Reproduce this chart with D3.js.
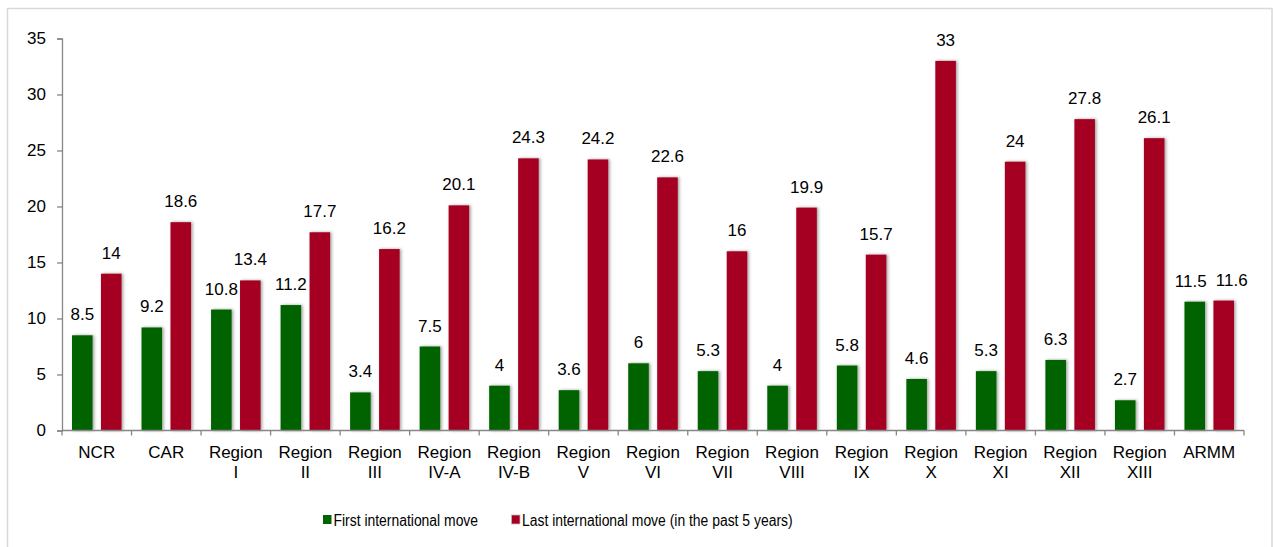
<!DOCTYPE html>
<html>
<head>
<meta charset="utf-8">
<script src="https://cdn.jsdelivr.net/npm/d3@7"></script>
<style>
  html, body { margin: 0; padding: 0; background: #fff; }
  svg { display: block; }
  text { font-family: "Liberation Sans", Arial, sans-serif; fill: #000; }
</style>
</head>
<body>
<svg id="chart" width="1275" height="547"></svg>
<script>
const categories = ["NCR", "CAR", "Region\nI", "Region\nII", "Region\nIII", "Region\nIV-A", "Region\nIV-B", "Region\nV", "Region\nVI", "Region\nVII", "Region\nVIII", "Region\nIX", "Region\nX", "Region\nXI", "Region\nXII", "Region\nXIII", "ARMM"];
const firstMove = [8.5, 9.2, 10.8, 11.2, 3.4, 7.5, 4, 3.6, 6, 5.3, 4, 5.8, 4.6, 5.3, 6.3, 2.7, 11.5];
const lastMove = [14, 18.6, 13.4, 17.7, 16.2, 20.1, 24.3, 24.2, 22.6, 16, 19.9, 15.7, 33, 24, 27.8, 26.1, 11.6];
const seriesNames = ["First international move", "Last international move (in the past 5 years)"];
const seriesColors = ["#006400", "#A50021"];
const yTicks = [0, 5, 10, 15, 20, 25, 30, 35];

const svg = d3.select("#chart");

// outer frame
svg.append("rect").attr("x", 7.5).attr("y", 8.5).attr("width", 1264.5).attr("height", 560)
  .attr("fill", "none").attr("stroke", "#d9d9d9").attr("stroke-width", 1.5);

const defs = svg.append("defs");
const f = defs.append("filter").attr("id", "shadow").attr("x", "-50%").attr("y", "-10%").attr("width", "200%").attr("height", "120%");
f.append("feDropShadow").attr("dx", 1.5).attr("dy", 0).attr("stdDeviation", 1.8)
  .attr("flood-color", "#000").attr("flood-opacity", 0.38);

const plotLeft = 62, plotRight = 1244, plotTop = 38.5, plotBottom = 430.5;

const y = d3.scaleLinear().domain([0, 35]).range([plotBottom, plotTop]);
const x0 = d3.scaleBand().domain(d3.range(categories.length)).range([plotLeft, plotRight]).paddingInner(0).paddingOuter(0);
const x1 = d3.scaleBand().domain([0, 1]).range([0, x0.bandwidth()]).paddingInner(0.29).paddingOuter(0.345);

const data = categories.map((c, i) => ({ c, i, vals: [firstMove[i], lastMove[i]] }));

// bars
const groups = svg.append("g").selectAll("g").data(data).join("g")
  .attr("transform", d => `translate(${x0(d.i)},0)`);

groups.selectAll("rect").data(d => d.vals.map((v, s) => ({ v, s }))).join("rect")
  .attr("x", d => x1(d.s))
  .attr("y", d => y(d.v))
  .attr("width", x1.bandwidth())
  .attr("height", d => y(0) - y(d.v))
  .attr("fill", d => seriesColors[d.s])
  .attr("filter", "url(#shadow)");

groups.selectAll("text.val").data(d => d.vals.map((v, s) => ({ v, s, last: d.i === categories.length - 1 }))).join("text")
  .attr("class", "val")
  .attr("x", d => x1(d.s) + x1.bandwidth() / 2)
  .attr("dx", d => d.last ? (d.s === 0 ? -4 : 8) : 0)
  .attr("y", d => y(d.v) - 15)
  .attr("text-anchor", "middle")
  .style("font-size", "17px")
  .text(d => d.v);

// y axis
const yAxis = svg.append("g").attr("transform", `translate(${plotLeft},0)`)
  .call(d3.axisLeft(y).tickValues(yTicks).tickSize(5).tickPadding(11));
yAxis.select(".domain").attr("stroke", "#868686").attr("stroke-width", 1.3);
yAxis.selectAll(".tick line").attr("stroke", "#868686").attr("stroke-width", 1.3);
yAxis.selectAll(".tick text").style("font-size", "17px").style("font-family", "Liberation Sans, Arial, sans-serif").attr("fill", "#000");

// x axis
const xAxisG = svg.append("g").attr("transform", `translate(0,${plotBottom})`);
xAxisG.append("line").attr("x1", plotLeft).attr("x2", plotRight).attr("y1", 0).attr("y2", 0)
  .attr("stroke", "#868686").attr("stroke-width", 1.3);
const boundaries = d3.range(categories.length + 1).map(i => i < categories.length ? x0(i) : x0(i - 1) + x0.bandwidth());
xAxisG.selectAll("line.tick").data(boundaries).join("line").attr("class", "tick")
  .attr("x1", d => d).attr("x2", d => d).attr("y1", 0).attr("y2", 5)
  .attr("stroke", "#868686").attr("stroke-width", 1.3);
const catText = xAxisG.selectAll("text").data(data).join("text")
  .attr("x", d => x0(d.i) + x0.bandwidth() / 2)
  .attr("y", 27.5)
  .attr("text-anchor", "middle")
  .style("font-size", "17px");
catText.each(function(d) {
  const lines = d.c.split("\n");
  d3.select(this).selectAll("tspan").data(lines).join("tspan")
    .attr("x", x0(d.i) + x0.bandwidth() / 2)
    .attr("dy", (l, k) => k === 0 ? 0 : 19.5)
    .text(l => l);
});

// legend
const legendItems = [{ x: 323, name: seriesNames[0], color: seriesColors[0] }, { x: 511.5, name: seriesNames[1], color: seriesColors[1] }];
const leg = svg.append("g").selectAll("g").data(legendItems).join("g");
leg.append("rect").attr("x", d => d.x).attr("y", 515).attr("width", 8.5).attr("height", 9)
  .attr("fill", d => d.color).attr("stroke", (d, i) => i === 1 ? "#bbb" : "none").attr("stroke-width", 0.8);
leg.append("text")
  .attr("transform", d => `translate(${d.x + 10.5},525.5) scale(0.87,1)`)
  .style("font-size", "16px")
  .text(d => d.name);
</script>
</body>
</html>
